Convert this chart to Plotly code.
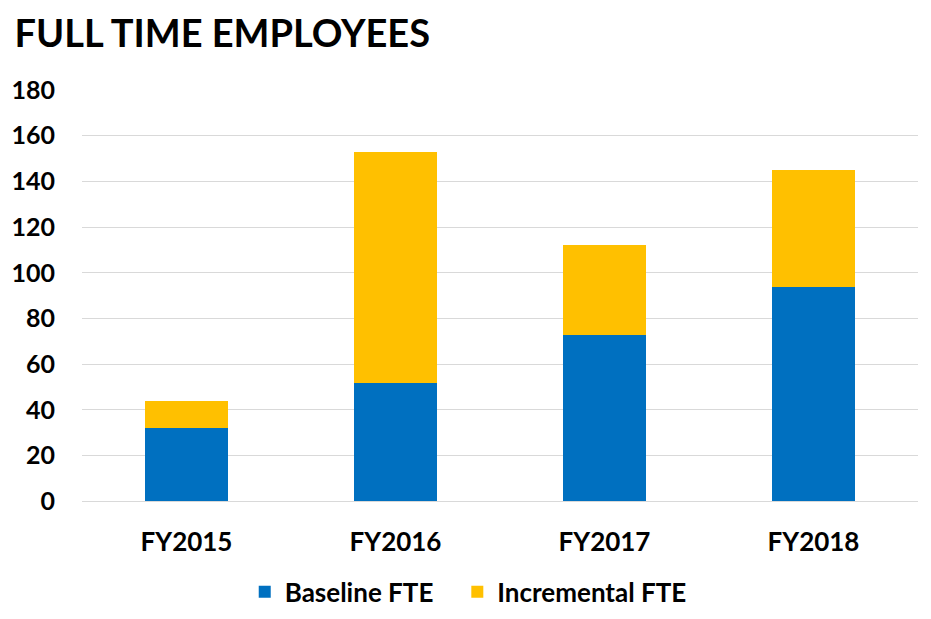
import plotly.graph_objects as go

categories = ["FY2015", "FY2016", "FY2017", "FY2018"]
baseline = [32, 52, 73, 94]
incremental = [12, 101, 39, 51]
y_ticks = [0, 20, 40, 60, 80, 100, 120, 140, 160, 180]
series_names = ["Baseline FTE\u00a0\u00a0\u00a0", "Incremental FTE"]

FONT = "Lato"
fig = go.Figure()
fig.add_trace(go.Bar(name=series_names[0], x=categories, y=baseline,
                     marker=dict(color="#0070C0", line=dict(width=0))))
fig.add_trace(go.Bar(name=series_names[1], x=categories, y=incremental,
                     marker=dict(color="#FFC000", line=dict(width=0))))

fig.update_layout(
    width=931, height=619,
    barmode="stack", bargap=0.6,
    paper_bgcolor="white", plot_bgcolor="white",
    margin=dict(l=74, r=21, t=81.5, b=40),
    font=dict(family=FONT, color="black"),
    title=dict(text="<b>FULL TIME EMPLOYEES</b>", font=dict(family=FONT, size=38, color="black"),
               xref="container", x=0.007, xanchor="left",
               yref="container", y=0.959, yanchor="middle"),
    showlegend=True,
    legend=dict(orientation="h", xref="paper", x=0.462, xanchor="center",
                yref="paper", y=-0.020, yanchor="middle",
                font=dict(family=FONT, size=26, color="black", weight="bold"),
                itemwidth=30, traceorder="normal"),
)
fig.update_yaxes(range=[0, 180], tickvals=y_ticks, showgrid=True, gridcolor="#d9d9d9", gridwidth=1,
                 zeroline=False, showline=False, ticks="", automargin=False,
                 domain=[0.1638, 1],
                 tickfont=dict(family=FONT, size=25, color="black", weight="bold"),
                 ticklabelstandoff=26)
fig.update_xaxes(showline=True, linecolor="#d9d9d9", linewidth=1, ticks="", automargin=False,
                 tickfont=dict(family=FONT, size=26, color="black", weight="bold"),
                 ticklabelstandoff=17)

fig.write_html("out.html")
